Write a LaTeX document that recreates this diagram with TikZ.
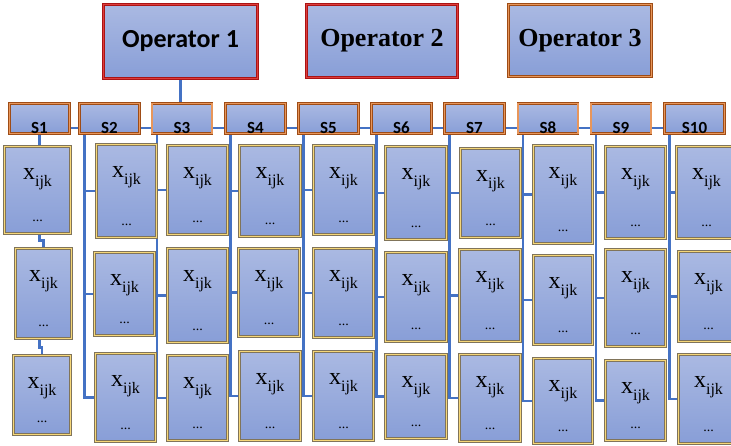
\documentclass[tikz,border=0pt]{standalone}
\usepackage{fontspec}
\setmainfont{Liberation Serif}
\newfontfamily\carlito{Carlito}
\usetikzlibrary{backgrounds}

\definecolor{boxtop}{RGB}{170,185,226}
\definecolor{boxbot}{RGB}{136,158,215}
\definecolor{linkblue}{RGB}{68,114,196}
\definecolor{opred}{RGB}{170,20,20}
\definecolor{opredin}{RGB}{222,60,60}
\definecolor{sorange}{RGB}{158,76,22}
\definecolor{sorangein}{RGB}{232,150,90}
\definecolor{xgold}{RGB}{128,116,90}
\definecolor{xgoldin}{RGB}{246,215,120}

\begin{document}
\begin{tikzpicture}[
	x=1pt, y=-1pt,
	grad/.style={top color=boxtop, bottom color=boxbot, inner sep=0pt},
	opbox/.style={grad, draw=opred, double=opredin, line width=0.8pt, double distance=1.3pt},
	opbrown/.style={grad, draw=sorange, double=sorangein, line width=0.8pt, double distance=1.3pt},
	sbox/.style={grad, draw=sorange, double=sorangein, line width=0.8pt, double distance=1.2pt,
		minimum width=60, minimum height=30, font=\carlito\fontsize{17}{17}\selectfont\bfseries},
	xbox/.style={grad, draw=xgold, double=xgoldin, line width=0.5pt, double distance=1.6pt},
	xlab/.style={anchor=base, inner sep=0pt, font=\fontsize{24}{24}\selectfont},
	xdots/.style={anchor=base, inner sep=0pt, font=\fontsize{14}{14}\selectfont},
	link/.style={draw=linkblue, line width=2.6pt}
	]
	\useasboundingbox (0,0) rectangle (731,445);
	
	% operators
	\node[opbox, minimum width=154, minimum height=74, font=\carlito\fontsize{26}{28}\selectfont\bfseries] (op1) at (180.5,41.5) {Operator 1};
	\node[opbox, minimum width=151, minimum height=73, font=\fontsize{26}{28}\selectfont\bfseries] (op2) at (382,41) {Operator 2};
	\node[opbrown, minimum width=143, minimum height=72, font=\fontsize{26}{28}\selectfont\bfseries] (op3) at (580,40.5) {Operator 3};
	
	% S row
	\foreach \i/\cx in {1/39.5,2/109.5,3/182,4/255.5,5/328.5,6/401.5,7/474.5,8/548,9/621,10/694.5}
		\node[sbox] (S\i) at (\cx,118.5) {\raisebox{-15pt}[0pt][0pt]{S\i}};
	
	% x_ijk cells: column/row/left/right/top/bottom
	\foreach \k/\j/\xl/\xr/\yt/\yb in {
		1/1/3/72/145/235, 1/2/14/73/247/340, 1/3/12/72/354/436,
		2/1/95/158/143/239, 2/2/93/156/251/337, 2/3/94/157/352/443,
		3/1/166/229/144/236, 3/2/166/229/247/344, 3/3/166/229/354/442,
		4/1/238/302/144/238, 4/2/237/301/247/338, 4/3/238/302/350/442,
		5/1/312/375/144/236, 5/2/312/375/247/339, 5/3/312/375/350/442,
		6/1/384/448/145/241, 6/2/384/448/251/343, 6/3/384/448/353/440,
		7/1/459/522/147/239, 7/2/458/522/248/343, 7/3/458/522/353/443,
		8/1/532/594/144/245, 8/2/532/594/254/346, 8/3/532/594/357/445,
		9/1/604/667/145/240, 9/2/604/667/248/348, 9/3/604/667/359/442,
		10/1/675/738/145/240, 10/2/677/740/250/343, 10/3/677/740/353/445}
	{
		\node[xbox, minimum width={\xr-\xl-3}, minimum height={\yb-\yt-3}] (x\k-\j) at ({(\xl+\xr)/2},{(\yt+\yb)/2}) {};
		\node[xlab] (x\k-\j-t) at ([yshift=-33pt]x\k-\j.north) {x\raisebox{-7pt}{\fontsize{16}{16}\selectfont ijk}};
		\node[xdots] (x\k-\j-d) at ([yshift=12pt]x\k-\j.south) {...};
	}
	
	\begin{scope}[on background layer]
		\draw[link] (op1.south) -- (op1.south |- S3.north);
		\draw[link] ([yshift=-9.5pt]S1.center) -- ([yshift=-9.5pt]S10.center);
		% S1 chain
		\draw[link] (S1.south) -- (S1.south |- x1-1.north);
		\draw[link] (S1.south |- x1-1.south) -- ++(0,7) -| (x1-2.north);
		\draw[link] (S1.south |- x1-2.south) -- ++(0,9) -| (x1-3.north);
		% S2..S10 trees
		\foreach \k in {2,...,10}{
			\coordinate (v\k) at ([xshift=5.5pt]S\k.south west);
			\draw[link] (v\k) |- (x\k-3.west);
			\draw[link] (v\k |- x\k-1.west) -- (x\k-1.west);
			\draw[link] (v\k |- x\k-2.west) -- (x\k-2.west);
		}
	\end{scope}
\end{tikzpicture}
\end{document}
